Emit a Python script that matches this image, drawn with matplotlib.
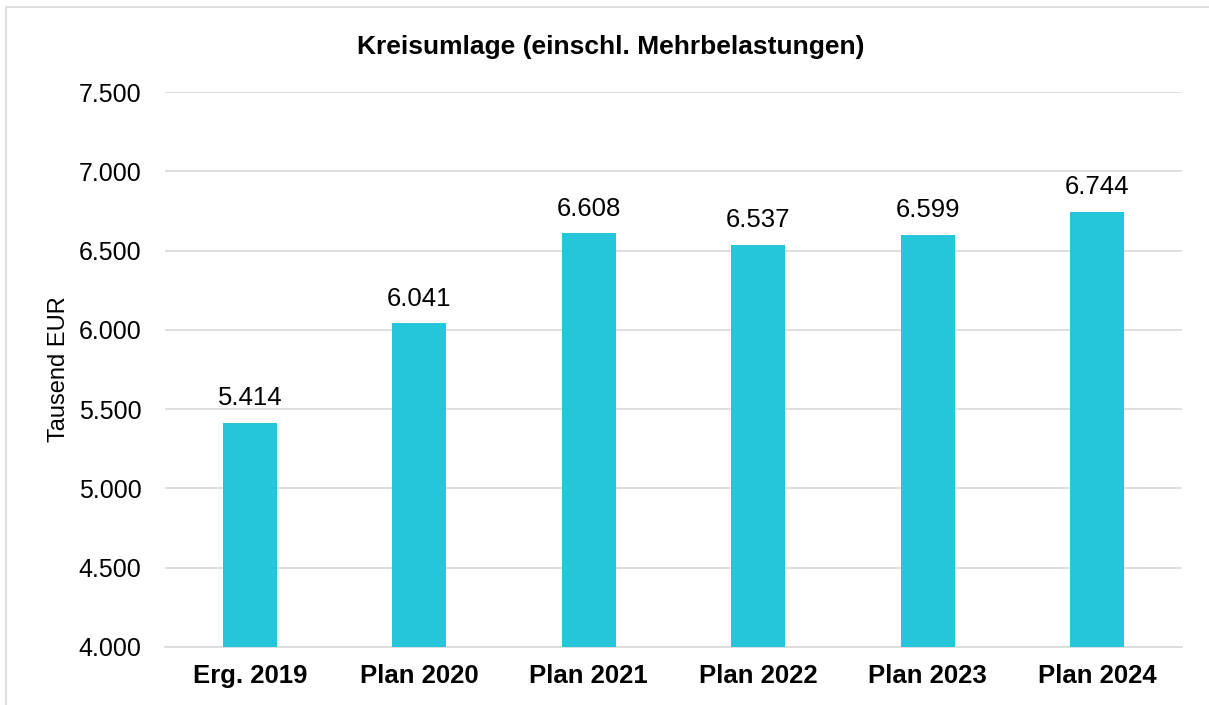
import matplotlib.pyplot as plt
from matplotlib.patches import Rectangle

plt.rcParams['font.family'] = ['Liberation Sans', 'DejaVu Sans']

categories = ['Erg. 2019', 'Plan 2020', 'Plan 2021', 'Plan 2022', 'Plan 2023', 'Plan 2024']
values = [5414, 6041, 6608, 6537, 6599, 6744]
yticks = [4000, 4500, 5000, 5500, 6000, 6500, 7000, 7500]


def fmt(v):
    return f'{v:,.0f}'.replace(',', '.')


fig = plt.figure(figsize=(12.09, 7.05), dpi=100)
ax = fig.add_axes([0.1365, 0.0823, 0.8412, 0.7872])

# outer light frame
fig.patches.append(Rectangle((6 / 1209, -0.05), 1.2, 1 - 7 / 705 + 0.05,
                             transform=fig.transFigure, fill=False,
                             edgecolor='#d9d9d9', linewidth=1.2))

x = range(len(categories))
bars = ax.bar(x, values, width=0.32, color='#26C6DA', zorder=3)

ax.set_ylim(4000, 7500)
ax.set_xlim(-0.5, len(categories) - 0.5)
ax.set_yticks(yticks)
ax.set_yticklabels([fmt(v) for v in yticks], fontsize=18)
ax.set_xticks(list(x))
ax.set_xticklabels(categories, fontsize=18.5, fontweight='bold')
ax.tick_params(axis='y', length=0, pad=17)
ax.tick_params(axis='x', length=0, pad=12)

ax.grid(axis='y', color='#d9d9d9', linewidth=1.2, zorder=0)
for s in ['top', 'right', 'left']:
    ax.spines[s].set_visible(False)
ax.spines['bottom'].set_color('#d9d9d9')
ax.spines['bottom'].set_linewidth(1.2)

for b, v in zip(bars, values):
    ax.annotate(fmt(v), (b.get_x() + b.get_width() / 2, v),
                xytext=(0, 9), textcoords='offset points',
                ha='center', va='bottom', fontsize=18.5)

ax.set_ylabel('Tausend EUR', fontsize=17, labelpad=6)
fig.text(0.5055, 0.934, 'Kreisumlage (einschl. Mehrbelastungen)',
         ha='center', va='center', fontsize=19, fontweight='bold')

fig.savefig('out.png', dpi=100)
